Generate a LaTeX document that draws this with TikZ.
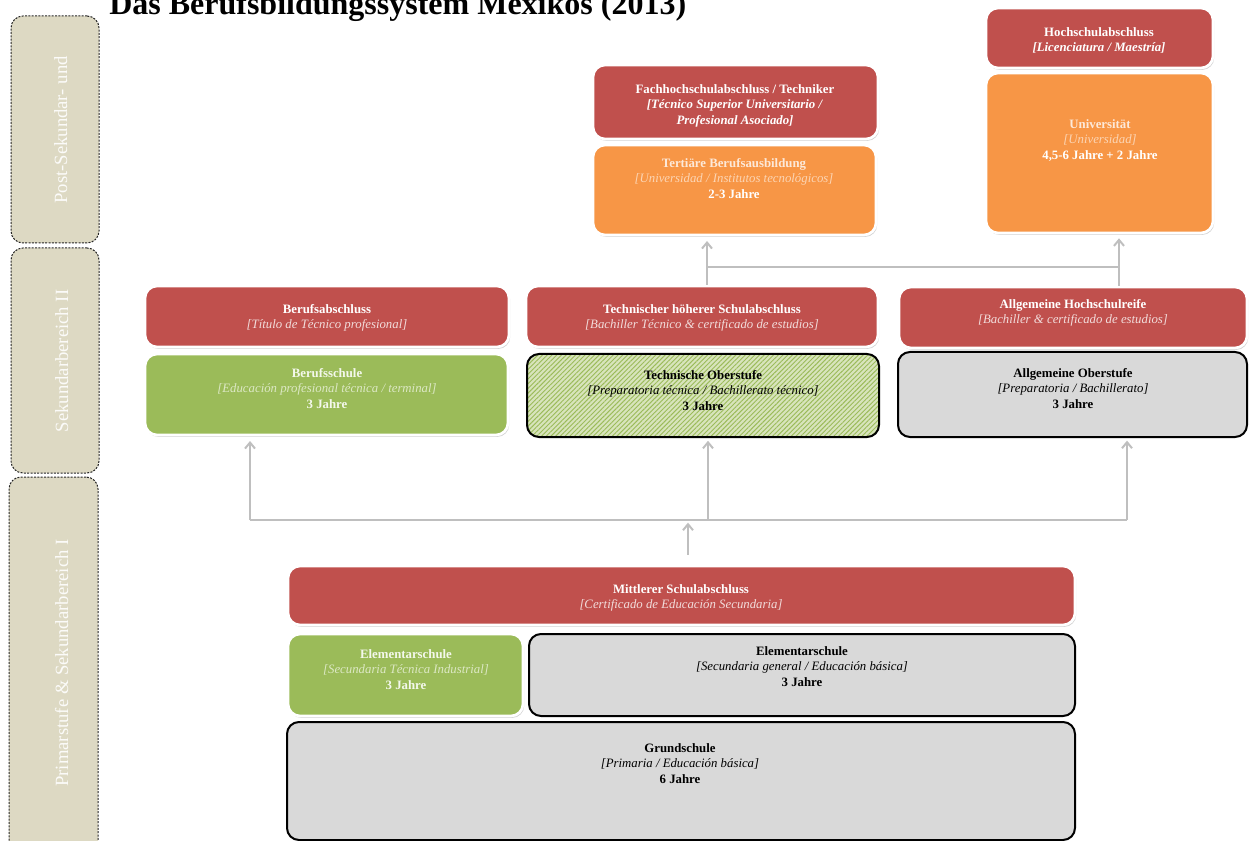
\documentclass[tikz,border=0pt]{standalone}
\usepackage{fontspec}
\setmainfont{Liberation Serif}
\usetikzlibrary{fit,shadows,patterns.meta,arrows.meta}

\definecolor{boxred}{HTML}{C0504D}
\definecolor{boxorange}{HTML}{F79646}
\definecolor{boxgreen}{HTML}{9BBB59}
\definecolor{boxgray}{HTML}{D9D9D9}
\definecolor{sidebeige}{HTML}{DDD9C3}
\definecolor{hatchbg}{HTML}{D8E4BC}
\definecolor{hatchline}{HTML}{9BBB59}
\definecolor{conngray}{HTML}{BFBFBF}
\definecolor{redit}{HTML}{F2DCDB}
\definecolor{orangetitle}{HTML}{FDE9D9}
\definecolor{orangeit}{HTML}{FCD5B4}
\definecolor{greentitle}{HTML}{F4F8EC}
\definecolor{greenit}{HTML}{DCE8C4}

\begin{document}
\begin{tikzpicture}[x=0.75pt,y=-0.75pt,
  box/.style={rectangle, rounded corners=9pt, inner sep=0pt},
  glow/.style={box, draw=white, line width=2pt,
    drop shadow={shadow xshift=0.9pt, shadow yshift=-1.4pt, opacity=0.35}},
  redbox/.style={glow, fill=boxred},
  orangebox/.style={glow, fill=boxorange},
  greenbox/.style={glow, fill=boxgreen},
  graybox/.style={box, draw=black, line width=1.5pt, fill=boxgray},
  hatchbox/.style={box, draw=black, line width=1.5pt, preaction={fill=hatchbg},
    pattern={Lines[angle=45,distance=2.5pt,line width=0.7pt]}, pattern color=hatchline},
  txt/.style={anchor=north, inner sep=0pt, align=center, font=\fontsize{9.6}{11.6}\selectfont},
  side/.style={rectangle, rounded corners=9pt, draw=black!85, dash pattern=on 1.5pt off 1pt,
    line width=0.75pt, fill=sidebeige, inner sep=0pt},
  sidetxt/.style={rotate=90, anchor=base, inner sep=0pt, text=white, text opacity=0.9,
    font=\fontsize{14}{16}\selectfont},
  conn/.style={draw=conngray, line width=1.5pt},
  arr/.style={conn, -{Straight Barb[length=4.5pt,width=7.5pt]}}
]
\useasboundingbox (0,0) rectangle (1249,841);

% title (runs off the top edge)
\node[anchor=base west, inner sep=0pt, font=\fontsize{24}{28}\selectfont\bfseries] (title)
  at (109,15) {Das Berufsbildungssystem Mexikos (2013)};

% level panels on the left
\node[side, fit={(11,16) (99,243)}] (p1) {};
\node[sidetxt] (p1-t) at (67,130) {Post-Sekundar- und};
\node[side, fit={(11,248) (99,473)}] (p2) {};
\node[sidetxt] (p2-t) at (68,361) {Sekundarbereich II};
\node[side, fit={(9,477) (98,870)}] (p3) {};
\node[sidetxt] (p3-t) at (68,663) {Primarstufe \& Sekundarbereich I};

% tertiary level
\node[redbox, fit={(986,8) (1213,68)}] (hsa) {};
\node[txt, text=white] (hsa-t) at (1099,27)
  {\textbf{Hochschulabschluss}\\\textbf{\textit{[Licenciatura / Maestría]}}};
\node[orangebox, fit={(986,73) (1213,233)}] (uni) {};
\node[txt] (uni-t) at (1100,119)
  {\textcolor{orangetitle}{\textbf{Universität}}\\\textcolor{orangeit}{\textit{[Universidad]}}\\\textcolor{white}{\textbf{4,5-6 Jahre + 2 Jahre}}};

\node[redbox, fit={(593,65) (878,139)}] (fha) {};
\node[txt, text=white] (fha-t) at (735,84)
  {\textbf{Fachhochschulabschluss / Techniker}\\\textbf{\textit{[Técnico Superior Universitario /}}\\\textbf{\textit{Profesional Asociado]}}};
\node[orangebox, fit={(593,145) (876,235)}] (tert) {};
\node[txt] (tert-t) at (734,158)
  {\textcolor{orangetitle}{\textbf{Tertiäre Berufsausbildung}}\\\textcolor{orangeit}{\textit{[Universidad / Institutos tecnológicos]}}\\\textcolor{white}{\textbf{2-3 Jahre}}};

% upper secondary level
\node[redbox, fit={(145,286) (509,347)}] (ba) {};
\node[txt] (ba-t) at (327,304)
  {\textcolor{white}{\textbf{Berufsabschluss}}\\\textcolor{redit}{\textit{[Título de Técnico profesional]}}};
\node[greenbox, fit={(145,354) (508,435)}] (bs) {};
\node[txt] (bs-t) at (327,368)
  {\textcolor{greentitle}{\textbf{Berufsschule}}\\\textcolor{greenit}{\textit{[Educación profesional técnica / terminal]}}\\\textcolor{greentitle}{\textbf{3 Jahre}}};

\node[redbox, fit={(526,286) (878,347)}] (tha) {};
\node[txt] (tha-t) at (702,304)
  {\textcolor{white}{\textbf{Technischer höherer Schulabschluss}}\\\textcolor{redit}{\textit{[Bachiller Técnico \& certificado de estudios]}}};
\node[hatchbox, fit={(527,354) (879,437)}] (tob) {};
\node[txt] (tob-t) at (703,370)
  {\textbf{Technische Oberstufe}\\\textit{[Preparatoria técnica / Bachillerato técnico]}\\\textbf{3 Jahre}};

\node[redbox, fit={(899,287) (1247,348)}] (ahr) {};
\node[txt] (ahr-t) at (1073,299)
  {\textcolor{white}{\textbf{Allgemeine Hochschulreife}}\\\textcolor{redit}{\textit{[Bachiller \& certificado de estudios]}}};
\node[graybox, fit={(898,352) (1247,437)}] (aob) {};
\node[txt] (aob-t) at (1073,368)
  {\textbf{Allgemeine Oberstufe}\\\textit{[Preparatoria / Bachillerato]}\\\textbf{3 Jahre}};

% primary and lower secondary level
\node[redbox, fit={(288,566) (1075,625)}] (msa) {};
\node[txt] (msa-t) at (681,584)
  {\textcolor{white}{\textbf{Mittlerer Schulabschluss}}\\\textcolor{redit}{\textit{[Certificado de Educación Secundaria]}}};
\node[greenbox, fit={(288,634) (523,716)}] (esg) {};
\node[txt] (esg-t) at (406,649)
  {\textcolor{greentitle}{\textbf{Elementarschule}}\\\textcolor{greenit}{\textit{[Secundaria Técnica Industrial]}}\\\textcolor{greentitle}{\textbf{3 Jahre}}};
\node[graybox, fit={(529,634) (1075,716)}] (esa) {};
\node[txt] (esa-t) at (802,646)
  {\textbf{Elementarschule}\\\textit{[Secundaria general / Educación básica]}\\\textbf{3 Jahre}};
\node[graybox, fit={(287,722) (1075,840)}] (gs) {};
\node[txt] (gs-t) at (680,743)
  {\textbf{Grundschule}\\\textit{[Primaria / Educación básica]}\\\textbf{6 Jahre}};

% connectors between the levels
\coordinate (b1) at (250,520);
\coordinate (b2) at (708,520);
\coordinate (b3) at (1127,520);
\coordinate (hub) at (688,520);
\draw[conn] (b1) -- (b3);
\draw[arr, shorten <=7.5pt, shorten >=2pt] (hub |- msa.north) -- (hub);
\draw[arr, shorten >=3.5pt] (b1) -- (b1 |- bs.south);
\draw[arr, shorten >=2.5pt] (b2) -- (b2 |- tob.south);
\draw[arr, shorten >=2pt] (b3) -- (b3 |- aob.south);

\coordinate (t1) at (707,267);
\coordinate (t2) at (1119,267);
\draw[conn] (t1) -- (t2);
\draw[arr, shorten >=3.5pt] (t1 |- tha.north) -- (t1 |- tert.south);
\draw[arr, shorten >=3pt] (t2 |- ahr.north) -- (t2 |- uni.south);
\end{tikzpicture}
\end{document}
